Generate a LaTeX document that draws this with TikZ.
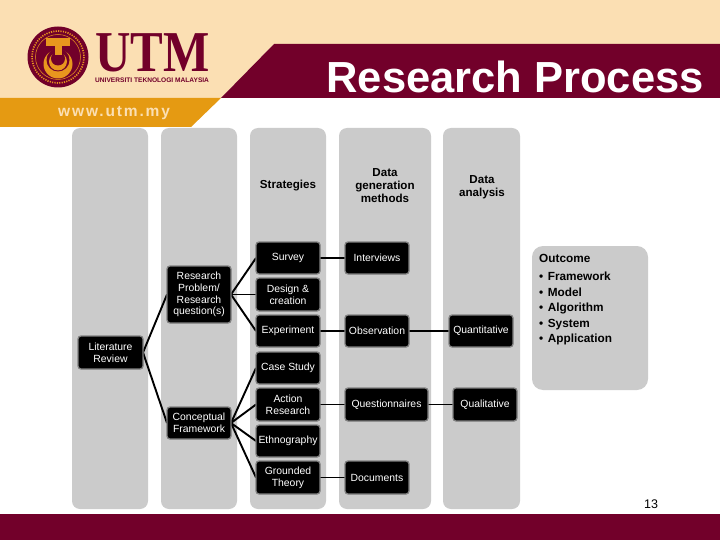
\documentclass[tikz,border=0pt]{standalone}
\usepackage{fontspec}
\setmainfont{Liberation Sans}
\newfontfamily\serifutm{Liberation Serif}
\definecolor{maroon}{HTML}{72002A}
\definecolor{cream}{HTML}{FBDFB3}
\definecolor{amber}{HTML}{E59A12}
\definecolor{gold}{HTML}{E8961E}
\definecolor{panel}{HTML}{CBCBCB}
\definecolor{rim}{HTML}{808080}
\tikzset{x=1pt,y=-1pt,
  col/.style={fill=panel,rounded corners=8pt,draw=none},
  blk/.style={fill=black,draw=rim,line width=1.3pt,rounded corners=3pt},
  lab/.style={text=white,font=\fontsize{10.4}{11.7}\selectfont,align=center,inner sep=0pt},
  hd/.style={text=black,font=\fontsize{11.6}{13}\selectfont\bfseries,align=center,inner sep=0pt},
  link/.style={draw=black,line width=1.9pt},
  thin link/.style={draw=black,line width=1.4pt}}
\newcommand{\bx}[6]{% name, x1,y1,x2,y2,text
  \path[blk] (#2,#3) rectangle (#4,#5);
  \node[lab] (#1t) at ({(#2+#4)/2},{(#3+#5)/2}) {#6};
  \coordinate (#1w) at (#2,{(#3+#5)/2});
  \coordinate (#1e) at (#4,{(#3+#5)/2});}
\begin{document}
\begin{tikzpicture}
\useasboundingbox (0,0) rectangle (720,540);
\fill[white] (0,0) rectangle (720,540);
% header
\fill[cream] (0,0) -- (720,0) -- (720,44) -- (274,44) -- (221,98) -- (0,98) -- cycle;
\fill[maroon] (274,44) -- (720,44) -- (720,98) -- (221,98) -- cycle;
\fill[amber] (0,98) -- (221,98) -- (191,127) -- (0,127) -- cycle;
\node[inner sep=0pt,text=white,font=\fontsize{43.5}{44}\selectfont\bfseries,anchor=east] (title) at (704,77) {Research Process};
\node[inner sep=0pt,text=cream,font=\fontsize{15.5}{16}\selectfont\bfseries\addfontfeature{LetterSpace=12},anchor=west] (url) at (58,113) {www.utm.my};
% logo
\fill[maroon] (58,57) circle (30.5);
\draw[gold,line width=1.6pt,dash pattern=on 1.2pt off 1.2pt] (58,57) circle (26);
\draw[gold,line width=0.5pt] (58,57) circle (22.5);
\fill[gold] (58,64) circle (14.5);
\fill[maroon] (58,60) circle (11.5);
\fill[gold] (58,61.5) circle (9);
\fill[maroon] (58,58.5) circle (7);
\fill[gold] (46,38) rectangle (70,46);
\fill[gold] (55,46) rectangle (61.5,55);
\fill[maroon] (58,59) circle (4);
\node[inner sep=0pt,text=maroon,font=\serifutm\fontsize{49}{49}\selectfont\bfseries,anchor=base west] (utm) at (95,72) {\scalebox{1}[1.18]{UTM}};
\node[inner sep=0pt,text=maroon,font=\fontsize{6.6}{7}\selectfont\bfseries,anchor=west] (uni) at (95,80) {UNIVERSITI TEKNOLOGI MALAYSIA};
% footer
\fill[maroon] (0,514) rectangle (720,540);
% columns
\path[col] (72,128) rectangle (148,509);
\path[col] (161,128) rectangle (237,509);
\path[col] (250,128) rectangle (326,509);
\path[col] (339,128) rectangle (431,509);
\path[col] (443,128) rectangle (520,509);
\path[fill=panel,rounded corners=11pt] (532,246) rectangle (648,390);
% headings
\node[hd] (h1) at (288,186) {Strategies};
\node[hd] (h2) at (385,185.5) {Data\\generation\\methods};
\node[hd] (h3) at (482,187) {Data\\analysis};
% outcome
\node[inner sep=0pt,anchor=north west,align=left,font=\fontsize{11.8}{15.4}\selectfont\bfseries] (out) at (539,254.5) {Outcome\\[2.5pt]
\textbullet\hspace{4.5pt}Framework\\ \textbullet\hspace{4.5pt}Model\\ \textbullet\hspace{4.5pt}Algorithm\\ \textbullet\hspace{4.5pt}System\\ \textbullet\hspace{4.5pt}Application};
% links (drawn beneath the boxes)
\coordinate (litE) at (143,352.5);
\coordinate (rpW) at (167,294.5);
\coordinate (cfW) at (167,423);
\coordinate (rpE) at (231,294.5);
\coordinate (cfE) at (231,423);
\draw[link] (litE) -- (rpW);
\draw[link] (litE) -- (cfW);
\draw[link] (rpE) -- (256,258);
\draw[link] (rpE) -- (256,294.5);
\draw[link] (rpE) -- (256,331);
\draw[link] (cfE) -- (256,368);
\draw[link] (cfE) -- (256,404.5);
\draw[link] (cfE) -- (256,441);
\draw[link] (cfE) -- (256,477.5);
\draw[thin link] (320,258) -- (345,258);
\draw[thin link] (320,331) -- (345,331);
\draw[thin link] (409,331) -- (449,331);
\draw[thin link] (320,404.5) -- (345,404.5);
\draw[thin link] (428,404.5) -- (453,404.5);
\draw[thin link] (320,477.5) -- (345,477.5);
% boxes
\bx{lit}{78}{336}{143}{369}{Literature\\Review}
\bx{rp}{167}{266}{231}{323}{Research\\Problem/\\Research\\question(s)}
\bx{cf}{167}{407}{231}{439}{Conceptual\\Framework}
\bx{sur}{256}{242}{320}{274}{Survey}
\bx{des}{256}{278}{320}{311}{Design \&\\creation}
\bx{exp}{256}{315}{320}{347}{Experiment}
\bx{cas}{256}{352}{320}{384}{Case Study}
\bx{act}{256}{388}{320}{421}{Action\\Research}
\bx{eth}{256}{425}{320}{457}{Ethnography}
\bx{gro}{256}{461}{320}{494}{Grounded\\Theory}
\bx{int}{345}{242}{409}{274}{Interviews}
\bx{obs}{345}{315}{409}{347}{Observation}
\bx{que}{345}{388}{428}{421}{Questionnaires}
\bx{doc}{345}{461}{409}{494}{Documents}
\bx{qua}{449}{315}{513}{347}{Quantitative}
\bx{qul}{453}{388}{517}{421}{Qualitative}
% page number
\node[inner sep=0pt,font=\fontsize{12.5}{14}\selectfont] (pg) at (651,504) {13};
\end{tikzpicture}
\end{document}
